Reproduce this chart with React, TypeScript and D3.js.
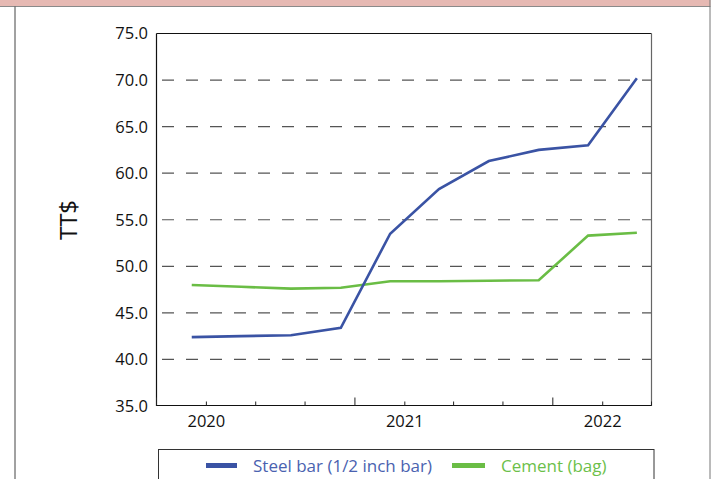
import React from "react";
import * as d3 from "d3";

const dates = ["2019-12-05", "2020-03-05", "2020-06-05", "2020-09-05", "2020-12-05", "2021-03-05", "2021-06-05", "2021-09-05", "2021-12-05", "2022-03-05"];
const steelBar = [42.4, 42.5, 42.6, 43.4, 53.5, 58.3, 61.3, 62.5, 63.0, 70.2];
const cement = [48.0, 47.8, 47.6, 47.7, 48.4, 48.4, 48.45, 48.5, 53.3, 53.6];
const yTicks = [35, 40, 45, 50, 55, 60, 65, 70, 75];
const yearLabels = ["2020", "2021", "2022"];
const seriesNames = ["Steel bar (1/2 inch bar)", "Cement (bag)"];

const W = 715;
const H = 479;
const FONT = "'Open Sans', 'Noto Sans', sans-serif";
const BLUE = "#3a53a4";
const GREEN = "#6abd45";

export default function App() {
  const parse = d3.timeParse("%Y-%m-%d");
  const pts = dates.map((d) => parse(d) as Date);
  const x = d3
    .scaleTime()
    .domain([new Date(2019, 9, 1), new Date(2022, 3, 1)])
    .range([156.5, 651.5]);
  const y = d3.scaleLinear().domain([35, 75]).range([406, 33.5]);

  const line = d3
    .line<number>()
    .x((_, i) => x(pts[i]))
    .y((v) => y(v));

  const ticks = d3.timeMonth.range(new Date(2019, 9, 1), new Date(2022, 4, 1), 3);

  const left = x.range()[0];
  const right = x.range()[1];

  return (
    <svg
      width={W}
      height={H}
      style={{ position: "absolute", left: 0, top: 0, display: "block", background: "#fff" }}
      fontFamily={FONT}
    >
      {/* outer frame */}
      <rect x={0} y={0} width={710.5} height={6} fill="#e6b9b3" />
      <line x1={0} x2={710.5} y1={6.5} y2={6.5} stroke="#8a8a8a" strokeWidth={1} />
      <line x1={15} x2={15} y1={6.5} y2={H} stroke="#444" strokeWidth={1} />
      <line x1={710} x2={710} y1={0} y2={H} stroke="#777" strokeWidth={1} />

      {/* gridlines */}
      {yTicks
        .filter((t) => t !== 35 && t !== 75)
        .map((t) => (
          <line
            key={t}
            x1={left}
            x2={right}
            y1={y(t)}
            y2={y(t)}
            stroke="#555"
            strokeWidth={1.2}
            strokeDasharray="12 12"
            strokeDashoffset={-5.5}
          />
        ))}

      {/* y tick labels */}
      {yTicks.map((t) => (
        <text
          key={t}
          x={148}
          y={y(t)}
          dy="0.36em"
          textAnchor="end"
          fontSize={16.5}
          fill="#111"
        >
          {t.toFixed(1)}
        </text>
      ))}

      {/* y axis label */}
      <text
        transform={`translate(77,220) rotate(-90)`}
        textAnchor="middle"
        fontSize={24}
        fill="#111"
      >
        TT$
      </text>

      {/* plot frame */}
      <line x1={left} x2={right} y1={33.5} y2={33.5} stroke="#111" strokeWidth={1.2} />
      <line x1={left} x2={left} y1={33.5} y2={406} stroke="#111" strokeWidth={1.2} />
      <line x1={right} x2={right} y1={33.5} y2={406} stroke="#666" strokeWidth={1.2} />
      <line x1={left} x2={right} y1={405.5} y2={405.5} stroke="#111" strokeWidth={1.2} />

      {/* x ticks */}
      {ticks.map((d, i) => {
        const tall = d.getMonth() === 9;
        return (
          <line
            key={i}
            x1={x(d)}
            x2={x(d)}
            y1={405.5}
            y2={tall ? 397.5 : 401.5}
            stroke="#222"
            strokeWidth={1}
          />
        );
      })}
      {ticks
        .filter((d) => d.getMonth() === 0)
        .map((d, i) => (
          <text
            key={i}
            x={x(d)}
            y={426.5}
            textAnchor="middle"
            fontSize={16.5}
            fill="#111"
          >
            {yearLabels[i]}
          </text>
        ))}

      {/* series */}
      <path d={line(cement) || ""} fill="none" stroke={GREEN} strokeWidth={2.6} />
      <path d={line(steelBar) || ""} fill="none" stroke={BLUE} strokeWidth={2.6} />

      {/* legend */}
      <rect x={158.5} y={449.5} width={495.5} height={40} fill="#fff" stroke="#333" strokeWidth={1} />
      <rect x={206} y={463} width={31} height={5} fill={BLUE} />
      <text x={253} y={472} fontSize={17} fill="#4a62b0">
        {seriesNames[0]}
      </text>
      <rect x={452} y={463} width={33} height={5} fill={GREEN} />
      <text x={501} y={472} fontSize={17} fill="#6cbf4a">
        {seriesNames[1]}
      </text>
    </svg>
  );
}
